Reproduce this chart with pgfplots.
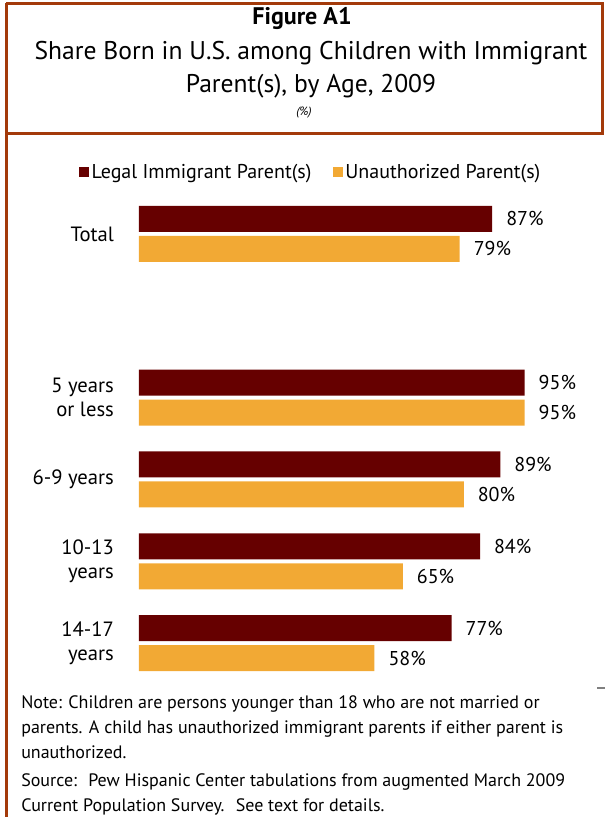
\documentclass[border=0pt]{standalone}
\usepackage{pgfplots}
\pgfplotsset{compat=1.18}
\usepackage{fontspec}
\setmainfont{PT Sans}
\definecolor{legal}{HTML}{660000}
\definecolor{unauth}{HTML}{F2A934}
\definecolor{framec}{HTML}{A33A0A}
\begin{document}
\begin{tikzpicture}
\begin{scope}[x=0.75pt,y=-0.75pt]
\path[use as bounding box] (0,0) rectangle (605,817);
\draw[framec,line width=2.25pt] (6,3) -- (6,817);
\draw[framec,line width=2.25pt] (6,4) -- (602,4) -- (602,133) -- (6,133);
\node[font=\bfseries\fontsize{18}{21}\selectfont] at (302,19) {Figure A1};
\node[font=\fontsize{19.2}{22}\selectfont] at (311,53) {Share Born in U.S. among Children with Immigrant};
\node[font=\fontsize{19.2}{22}\selectfont] at (311,86) {Parent(s), by Age, 2009};
\node[font=\itshape\fontsize{9}{11}\selectfont] at (304,113) {(\%)};
\draw[gray,line width=1pt] (597,688) -- (605,688);
\node[anchor=north west,align=left,font=\fontsize{13.5}{18.75}\selectfont,inner sep=0pt] at (21,695) {Note: Children are persons younger than 18 who are not married or\\parents. A child has unauthorized immigrant parents if either parent is\\unauthorized.};
\node[anchor=north west,align=left,font=\fontsize{13.5}{18.75}\selectfont,inner sep=0pt] at (21,773) {Source:~ Pew Hispanic Center tabulations from augmented March 2009\\Current Population Survey.~ See text for details.};
\end{scope}
\begin{axis}[
  at={(104.25pt,-513pt)}, anchor=south west,
  width=304.5pt, height=368.25pt, scale only axis,
  xmin=0, xmax=100, ymin=-0.5, ymax=5.5, y dir=reverse,
  axis line style={draw=none}, tick style={draw=none},
  xtick=\empty,
  ytick={0,2,3,4,5},
  yticklabels={Total,{5 years\\or less},6-9 years,{10-13\\years},{14-17\\years}},
  yticklabel style={align=right, font=\fontsize{15.5}{18}\selectfont, xshift=-11pt},
  /pgf/number format/assume math mode=true,
  xbar, bar width=19.5pt,
  nodes near coords={\pgfmathprintnumber{\pgfplotspointmeta}\%},
  nodes near coords style={anchor=west, xshift=7pt, font=\fontsize{15}{18}\selectfont},
  legend columns=2,
  legend style={draw=none, fill=none, at={(0.4236,1)}, anchor=center, yshift=15.75pt,
    font=\fontsize{15}{18}\selectfont, inner sep=0pt,
    /tikz/every even column/.append style={column sep=14pt}},
  legend image code/.code={\fill[#1,draw=none] (0pt,-3.75pt) rectangle (7.5pt,3.75pt);},
  clip=false,
]
\addplot[fill=legal, draw=none, bar shift=11.25pt] coordinates {(87,0) (95,2) (89,3) (84,4) (77,5)};
\addplot[fill=unauth, draw=none, bar shift=-11.25pt] coordinates {(79,0) (95,2) (80,3) (65,4) (58,5)};
\legend{Legal Immigrant Parent(s),Unauthorized Parent(s)}
\end{axis}
\end{tikzpicture}
\end{document}
